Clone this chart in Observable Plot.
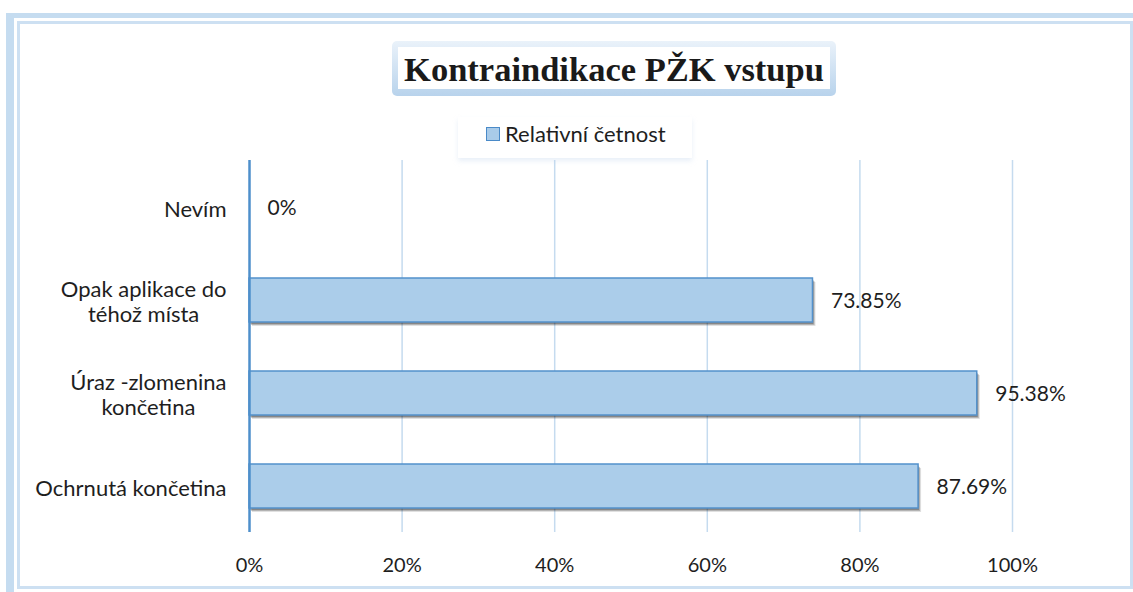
<!DOCTYPE html>
<html>
<head>
<meta charset="utf-8">
<script src="https://cdn.jsdelivr.net/npm/d3@7"></script>
<script src="https://cdn.jsdelivr.net/npm/@observablehq/plot@0.6"></script>
<style>
  html, body { margin: 0; padding: 0; background: #fff; }
  #wrap { position: relative; width: 1133px; height: 592px; overflow: hidden; background: #fff; font-family: Lato, "Open Sans", sans-serif; }
  .outer { position: absolute; left: 6px; top: 13px; width: 1200px; height: 700px; border-left: 8px solid #c5dcf0; border-top: 5px solid #c5dcf0; box-sizing: border-box; }
  .inner { position: absolute; left: 17px; top: 21px; width: 1116px; height: 568px; border: 3px solid #cde0f2; box-sizing: border-box; }
  .titlebox { position: absolute; left: 392px; top: 41px; width: 444px; height: 55px; border-radius: 5px; background: linear-gradient(to bottom, #eaf2fa, #b8d3ec); }
  .titleinner { position: absolute; left: 6px; top: 6px; width: 432px; height: 42px; background: #fff; text-align: center; font-family: "Liberation Serif", "Times New Roman", serif; font-weight: bold; font-size: 34.5px; line-height: 44px; color: #1a1a1a; white-space: nowrap; }
  .legend { position: absolute; left: 458px; top: 117px; width: 234px; height: 41px; background: #fff; box-shadow: 0 3px 5px rgba(190,210,235,0.35); }
  .legend .sw { position: absolute; left: 28px; top: 10px; width: 12px; height: 12px; background: #a9cbe9; border: 1.5px solid #4a8ac8; }
  .legend .lt { position: absolute; left: 47px; top: 4px; font-size: 22px; line-height: 26px; color: #1e1e1e; white-space: nowrap; }
  #chart { position: absolute; left: 0; top: 0; }
</style>
</head>
<body>
<div id="wrap">
  <div class="outer"></div>
  <div class="inner"></div>
  <div id="chart"></div>
  <div class="titlebox"><div class="titleinner">Kontraindikace PŽK vstupu</div></div>
  <div class="legend"><div class="sw"></div><div class="lt">Relativní četnost</div></div>
</div>
<script>
const categories = ["Nevím", "Opak aplikace do\ntéhož místa", "Úraz -zlomenina\nkončetina", "Ochrnutá končetina"];
const values = [0, 73.85, 95.38, 87.69];
const valueLabels = ["0%", "73.85%", "95.38%", "87.69%"];
const tickValues = [0, 20, 40, 60, 80, 100];
const tickLabels = ["0%", "20%", "40%", "60%", "80%", "100%"];

const data = categories.map((c, i) => ({cat: c, value: values[i], label: valueLabels[i]}));
const ticks = tickValues.map((t, i) => ({t, label: tickLabels[i]}));

const catSize = 22;
const ctx = document.createElement("canvas").getContext("2d");
ctx.font = catSize + "px Lato";
function labelWidth(s) { return Math.max(...s.split("\n").map(l => ctx.measureText(l).width)); }

const catMarks = categories.map((c) => Plot.text([c], {
  y: d => d, text: d => d, frameAnchor: "left", textAnchor: "middle",
  dx: -23 - labelWidth(c) / 2, dy: 1, lineHeight: 1.15, fontSize: catSize, fill: "#1e1e1e",
  ariaLabel: "clab"
}));

const shown = data.filter(d => d.value > 0);

const plot = Plot.plot({
  width: 1133,
  height: 592,
  marginTop: 160,
  marginBottom: 60,
  marginLeft: 249,
  marginRight: 121,
  style: {background: "transparent", fontFamily: "Lato, 'Open Sans', sans-serif", overflow: "visible"},
  x: {domain: [0, 100], axis: null},
  y: {domain: categories, axis: null, paddingInner: 0.53, paddingOuter: 0.265},
  marks: [
    Plot.ruleX(tickValues.filter(t => t > 0), {stroke: "#c5dbef", strokeWidth: 1.5}),
    Plot.barX(shown, {x: "value", y: "cat", dx: 3, dy: 4, fill: "#000", fillOpacity: 0.12}),
    Plot.barX(shown, {x: "value", y: "cat", dx: 2, dy: 3, fill: "#000", fillOpacity: 0.2}),
    Plot.barX(shown, {x: "value", y: "cat", dx: 1, dy: 2, fill: "#000", fillOpacity: 0.25}),
    Plot.barX(data, {x: "value", y: "cat", fill: "#abcdea", stroke: "#5391cb", strokeWidth: 1.5, ariaLabel: "bars"}),
    Plot.ruleX([0], {stroke: "#4e8fcb", strokeWidth: 2.5}),
    Plot.text(data, {x: "value", y: "cat", text: "label", dx: 18, dy: 1, textAnchor: "start", fontSize: 21, fill: "#1e1e1e", ariaLabel: "vlab"}),
    ...catMarks,
    Plot.text(ticks, {x: "t", text: "label", frameAnchor: "bottom", dy: 33, lineAnchor: "middle", textAnchor: "middle", fontSize: 20, fill: "#1e1e1e", ariaLabel: "tlab"})
  ]
});
document.getElementById("chart").appendChild(plot);

const svg = d3.select(plot);

function addBoxes(sel, padX, padY) {
  svg.selectAll(sel).each(function() {
    const bb = this.getBBox();
    const tr = this.getAttribute("transform");
    const mk = (x, y, w, h, fill, op) => {
      const r = document.createElementNS("http://www.w3.org/2000/svg", "rect");
      r.setAttribute("x", x); r.setAttribute("y", y);
      r.setAttribute("width", w); r.setAttribute("height", h);
      r.setAttribute("fill", fill); r.setAttribute("fill-opacity", op);
      if (tr) r.setAttribute("transform", tr);
      this.parentNode.insertBefore(r, this);
    };
    const x = bb.x - padX, y = bb.y - padY, w = bb.width + 2 * padX, h = bb.height + 2 * padY;
    mk(x + 2, y + 6, w, h, "#d6e6f6", 0.35);
    mk(x + 1, y + 4, w, h, "#d6e6f6", 0.45);
    mk(x, y, w, h, "#fff", 1);
  });
}
addBoxes('g[aria-label="vlab"] text', 6, 2);
addBoxes('g[aria-label="clab"] text', 3, 1);

svg.selectAll('g[aria-label="tlab"] text').each(function() {
  const tr = this.getAttribute("transform");
  if (tr) {
    this.setAttribute("transform", tr + " scale(0.72,1)");
  } else {
    const x = +this.getAttribute("x") || 0, y = +this.getAttribute("y") || 0;
    this.setAttribute("x", 0); this.setAttribute("y", 0);
    this.setAttribute("transform", `translate(${x},${y}) scale(0.72,1)`);
  }
});
</script>
</body>
</html>
